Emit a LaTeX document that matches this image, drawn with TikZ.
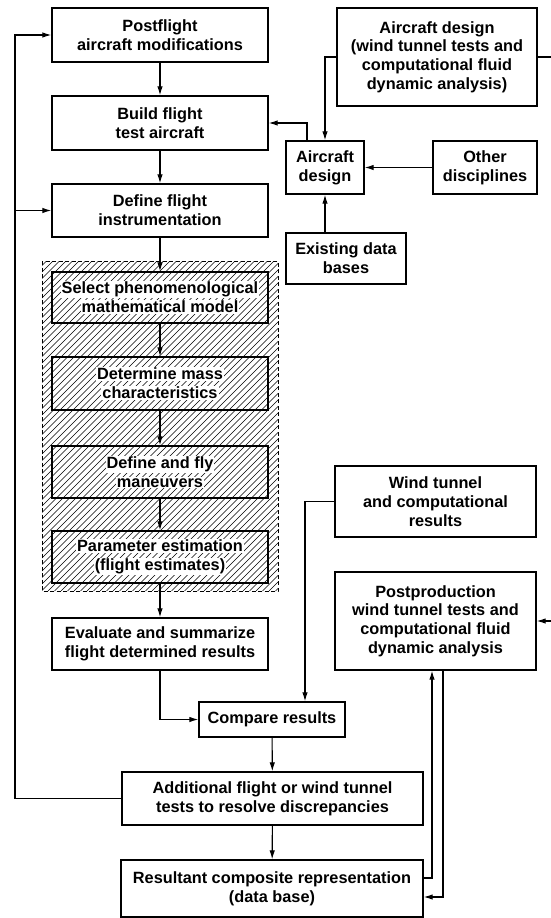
\documentclass[tikz,border=0pt]{standalone}
\usepackage{fontspec}
\setmainfont{Liberation Sans}
\usetikzlibrary{arrows.meta,positioning}

\setlength{\fboxsep}{1pt}
\newcommand{\wbox}[1]{\colorbox{white}{#1}}

\tikzset{
  blk/.style={draw,line width=1.4pt,align=center,inner sep=2pt},
  col/.style={blk,minimum width=216pt,minimum height=53pt},
  link/.style={line width=1.1pt,-{Latex[length=9pt,width=5.5pt]}},
}

\begin{document}
\begin{tikzpicture}[x=1pt,y=-1pt,font=\fontsize{16.3}{18.8}\selectfont\bfseries]
\useasboundingbox (0,0) rectangle (551,918);
\clip (0,0) rectangle (551,918);

% hatched block
\begin{scope}
\clip (42,261) rectangle (278,591);
\foreach \a in {-290,-283.5,...,280}
  \draw[line width=0.6pt] (\a,591) -- (\a+330,261);
\end{scope}
\draw[line width=0.6pt,dash pattern=on 4pt off 2.5pt] (42,261) rectangle (278,591);

% left column
\node[col,minimum height=54pt] (post) at (160,35) {Postflight\\aircraft modifications};
\node[col,minimum height=54pt] (build) at (160,123) {Build flight\\test aircraft};
\node[col] (instr) at (160,210.5) {Define flight\\instrumentation};
\node[col,minimum height=51pt] (select) at (160,297.5) {\wbox{Select phenomenological}\\\wbox{mathematical model}};
\node[col] (mass) at (160,383.5) {\wbox{Determine mass}\\\wbox{characteristics}};
\node[col,minimum height=52pt] (fly) at (160,472) {\wbox{Define and fly}\\\wbox{maneuvers}};
\node[col,minimum height=52pt] (param) at (160,557) {\wbox{Parameter estimation}\\\wbox{(flight estimates)}};
\node[col,minimum height=52pt] (evalr) at (160,644) {Evaluate and summarize\\flight determined results};

% bottom
\node[blk,minimum width=146pt,minimum height=35pt] (compare) at (272,719.5) {Compare results};
\node[blk,minimum width=301pt,minimum height=53pt] (addl) at (272.5,798.5) {Additional flight or wind tunnel\\tests to resolve discrepancies};
\node[blk,minimum width=302pt,minimum height=57pt] (result) at (272,888.5) {Resultant composite representation\\(data base)};

% right side
\node[blk,minimum width=200pt,minimum height=98pt] (design) at (437,57) {Aircraft design\\(wind tunnel tests and\\computational fluid\\dynamic analysis)};
\node[blk,minimum width=78pt,minimum height=53pt] (acdes) at (325,167.5) {Aircraft\\design};
\node[blk,minimum width=104pt,minimum height=53pt] (other) at (485,167.5) {Other\\disciplines};
\node[blk,minimum width=120pt,minimum height=51pt] (exist) at (346,258.5) {Existing data\\bases};
\node[blk,minimum width=201pt,minimum height=71pt] (wtres) at (435.5,501.5) {Wind tunnel\\and computational\\results};
\node[blk,minimum width=201pt,minimum height=98pt] (postprod) at (435.5,621) {Postproduction\\wind tunnel tests and\\computational fluid\\dynamic analysis};

% connectors
\draw[link] (post) -- (build);
\draw[link] (build) -- (instr);
\draw[link] (instr) -- (select);
\draw[link] (select) -- (mass);
\draw[link] (mass) -- (fly);
\draw[link] (fly) -- (param);
\draw[link] (param) -- (evalr);
\draw[link] (evalr.south) |- (compare.west);
\draw[link] (wtres.west) -| ([xshift=33pt]compare.north);
\draw[link] (compare) -- (addl);
\draw[link] (addl) -- (result);

\coordinate (lp) at (15,0);
\draw[link] (addl.west) -| (lp |- post.west) -- (post.west);
\draw[link] (lp |- instr.west) -- (instr.west);

\draw[link] ([yshift=10.5pt]result.east) -| ([xshift=-3.5pt]postprod.south);
\draw[link] ([xshift=7.5pt]postprod.south) |- ([yshift=-8.5pt]result.east);

\draw[link] (design.west) -| (acdes.north);
\coordinate (rt) at (562,0);
\draw[link] (design.east) -| (rt |- postprod.east) -- (postprod.east);
\draw[link] ([xshift=-18pt]acdes.north) |- (build.east);
\draw[link] (other) -- (acdes);
\draw[link] (exist.north -| acdes.south) -- (acdes.south);
\end{tikzpicture}
\end{document}
